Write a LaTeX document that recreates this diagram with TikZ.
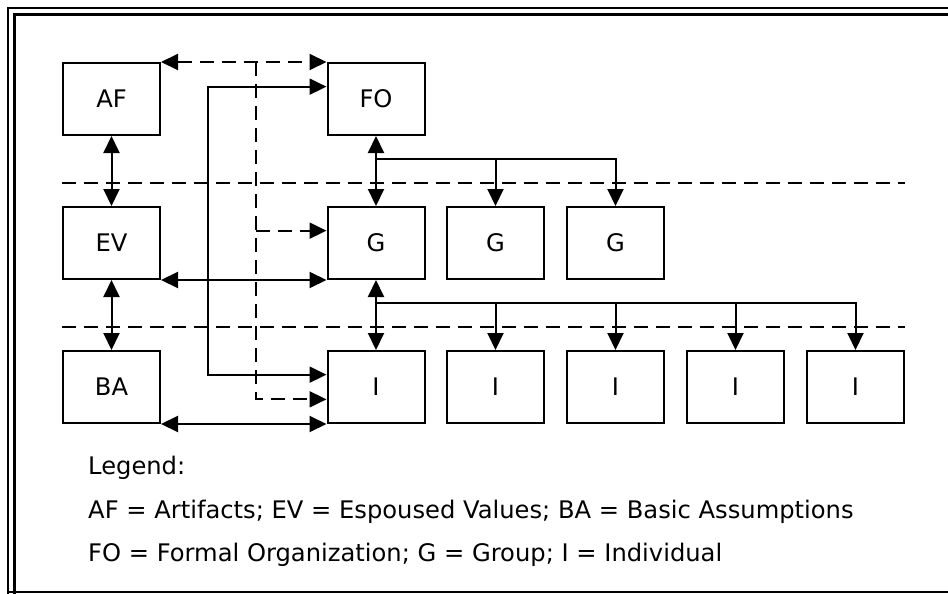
\documentclass[tikz,border=0pt]{standalone}
\usepackage{fontspec}
\setmainfont{DejaVu Sans}
\usetikzlibrary{arrows.meta,calc}
\begin{document}
\begin{tikzpicture}[x=1pt,y=-1pt,
  every node/.style={font=\fontsize{24.2}{29}\selectfont},
  unit/.style={draw,line width=2pt,minimum width=97pt,minimum height=72pt,inner sep=0pt},
  conn/.style={line width=2pt},
  tip/.style={-{Triangle[length=17pt,width=16pt]}},
  both/.style={{Triangle[length=17pt,width=16pt]}-{Triangle[length=17pt,width=16pt]}},
  dsh/.style={line width=2pt,dash pattern=on 14pt off 8pt},
  legend/.style={anchor=base west,inner sep=0pt}]
\useasboundingbox (0,0) rectangle (948,594);
% frame
\draw[line width=2.8pt] (8,594) -- (8,8) -- (948,8);
\draw[line width=2.2pt] (14.5,594) -- (14.5,14.5) -- (948,14.5);
\draw[line width=2.8pt] (8,592) -- (948,592);
% levels: artifacts / espoused values / basic assumptions
\node[unit] (AF) at (111.5,99) {AF};
\node[unit] (EV) at (111.5,243) {EV};
\node[unit] (BA) at (111.5,387) {BA};
% organization, groups, individuals
\node[unit] (FO) at (376,99) {FO};
\node[unit] (G1) at (376,243) {G};
\node[unit] (G2) at (495.5,243) {G};
\node[unit] (G3) at (615.5,243) {G};
\node[unit] (I1) at (376,387) {I};
\node[unit] (I2) at (495.5,387) {I};
\node[unit] (I3) at (615.5,387) {I};
\node[unit] (I4) at (735.5,387) {I};
\node[unit] (I5) at (855.5,387) {I};
% level separators
\draw[dsh] (AF.west |- 0,183) -- (I5.east |- 0,183);
\draw[dsh] (AF.west |- 0,327) -- (I5.east |- 0,327);
% vertical links between levels
\draw[conn,both] (AF.south) -- (EV.north);
\draw[conn,both] (EV.south) -- (BA.north);
\draw[conn,both] (FO.south) -- (G1.north);
\draw[conn,both] (G1.south) -- (I1.north);
\coordinate (b1) at ($(FO.south)!1/3!(G1.north)$);
\coordinate (b2) at ($(G1.south)!1/3!(I1.north)$);
\draw[conn,tip] (b1) -| (G2.north);
\draw[conn,tip] (b1) -| (G3.north);
\foreach \n in {I2,I3,I4,I5}
  \draw[conn,tip] (b2) -| (\n.north);
% links from the cultural levels to the units
\coordinate (sx) at (208,0);
\coordinate (dx) at (256,0);
\coordinate (pFO) at ($(FO.north west)!1/3!(FO.south west)$);
\coordinate (pG) at ($(G1.north west)!1/3!(G1.south west)$);
\coordinate (pI) at ($(I1.north west)!1/3!(I1.south west)$);
\coordinate (qI) at ($(I1.north west)!2/3!(I1.south west)$);
\draw[dsh,both] (AF.north east) -- (FO.north west);
\draw[dsh,tip] (dx |- AF.north) -- (dx |- qI) -- (qI);
\draw[dsh,tip] (dx |- pG) -- (pG);
\draw[conn,both] (pFO) -- (sx |- pFO) -- (sx |- pI) -- (pI);
\draw[conn,both] (EV.south east) -- (G1.south west);
\draw[conn,both] (BA.south east) -- (I1.south west);
% legend
\node[legend] (L0) at (88,474) {Legend:};
\node[legend] (L1) at (88,518) {AF = Artifacts; EV = Espoused Values; BA = Basic Assumptions};
\node[legend] (L2) at (88,561) {FO = Formal Organization; G = Group; I = Individual};
\end{tikzpicture}
\end{document}
